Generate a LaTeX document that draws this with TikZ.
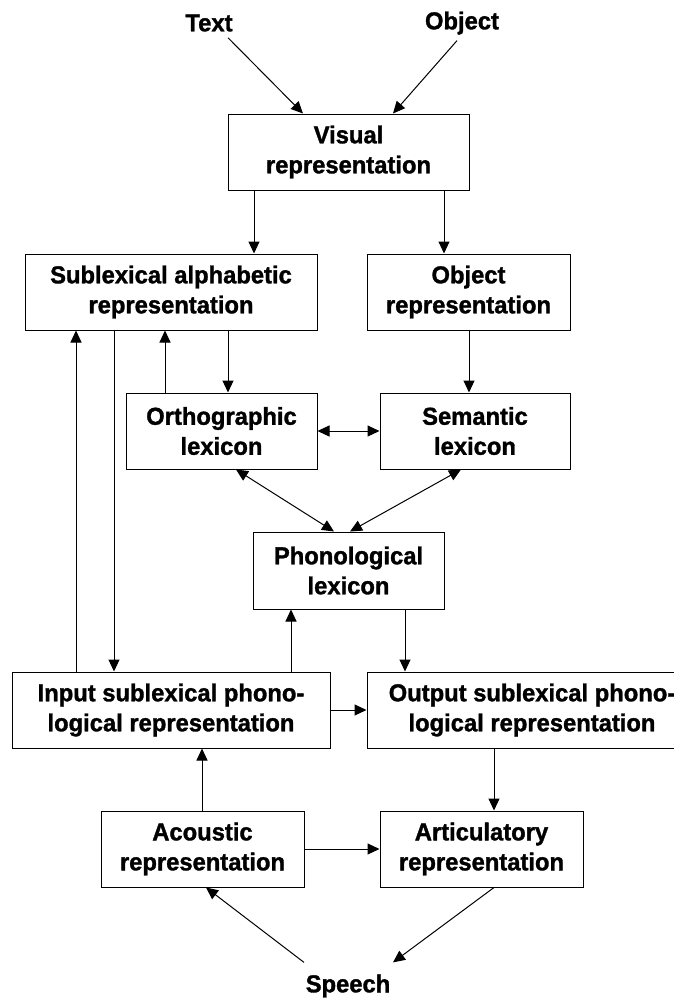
\documentclass[tikz,border=0pt]{standalone}
\usepackage{fontspec}
\setmainfont{Liberation Sans}[BoldFeatures={FakeBold=1.3, FakeStretch=0.97}]
\usetikzlibrary{arrows.meta}
\begin{document}
\begin{tikzpicture}[x=1pt,y=-1pt,
  lbl/.style={font=\bfseries\fontsize{24.5}{30}\selectfont, align=center},
  box/.style={lbl, draw, line width=1pt, inner sep=0pt, minimum height=76pt},
  arr/.style={line width=1pt, -{Triangle[length=12pt,width=11pt]}},
  darr/.style={line width=1pt, {Triangle[length=12pt,width=11pt]}-{Triangle[length=12pt,width=11pt]}}]
\path[use as bounding box, clip] (0,0) rectangle (674,999);
\fill[white] (0,0) rectangle (674,999);
% labels
\node[lbl, inner xsep=0pt, inner ysep=6pt] (text) at (209,23) {Text};
\node[lbl, inner xsep=0pt, inner ysep=6pt] (object) at (462,23) {Object};
\node[lbl, inner xsep=0pt, inner ysep=12pt] (speech) at (348,986) {Speech};
% boxes
\node[box, minimum width=241pt] (visual) at (348.5,152) {Visual\\representation};
\node[box, minimum width=292pt] (sublex) at (171,292) {Sublexical alphabetic\\representation};
\node[box, minimum width=203pt] (objrep) at (468.5,292) {Object\\representation};
\node[box, minimum width=191pt] (ortho) at (221.5,431) {Orthographic\\lexicon};
\node[box, minimum width=190pt] (semantic) at (475,431) {Semantic\\lexicon};
\node[box, minimum width=191pt, minimum height=77pt] (phono) at (348.5,570.5) {Phonological\\lexicon};
\node[box, minimum width=318pt] (input) at (171,710) {Input sublexical phono-\\logical representation};
\node[box, minimum width=330pt] (output) at (532,710) {Output sublexical phono-\\logical representation};
\node[box, minimum width=203pt] (acoustic) at (202.5,849) {Acoustic\\representation};
\node[box, minimum width=203pt] (artic) at (481.5,849) {Articulatory\\representation};
% connectors
\draw[arr] (text.south -| 228,0) -- (visual.north -| 303,0);
\draw[arr] (object.south -| 457,0) -- (visual.north -| 393,0);
\draw[arr] (visual.south -| 254,0) -- (sublex.north -| 254,0);
\draw[arr] (visual.south -| 444,0) -- (objrep.north -| 444,0);
\draw[arr] (input.north -| 76,0) -- (sublex.south -| 76,0);
\draw[arr] (sublex.south -| 114,0) -- (input.north -| 114,0);
\draw[arr] (ortho.north -| 165,0) -- (sublex.south -| 165,0);
\draw[arr] (sublex.south -| 228,0) -- (ortho.north -| 228,0);
\draw[arr] (objrep.south -| 469,0) -- (semantic.north -| 469,0);
\draw[darr] (ortho) -- (semantic);
\draw[darr] (ortho.south -| 236,0) -- (phono.north -| 334,0);
\draw[darr] (semantic.south -| 461,0) -- (phono.north -| 350,0);
\draw[arr] (input.north -| 291,0) -- (phono.south -| 291,0);
\draw[arr] (phono.south -| 405,0) -- (output.north -| 405,0);
\draw[arr] (input) -- (input -| output.west);
\draw[arr] (acoustic.north -| 202,0) -- (input.south -| 202,0);
\draw[arr] (output.south -| 494,0) -- (artic.north -| 494,0);
\draw[arr] (acoustic) -- (artic);
\draw[arr] (speech.north -| 304,0) -- (acoustic.south -| 206,0);
\draw[arr] (artic.south -| 494,0) -- (speech.north -| 393,0);
\end{tikzpicture}
\end{document}
